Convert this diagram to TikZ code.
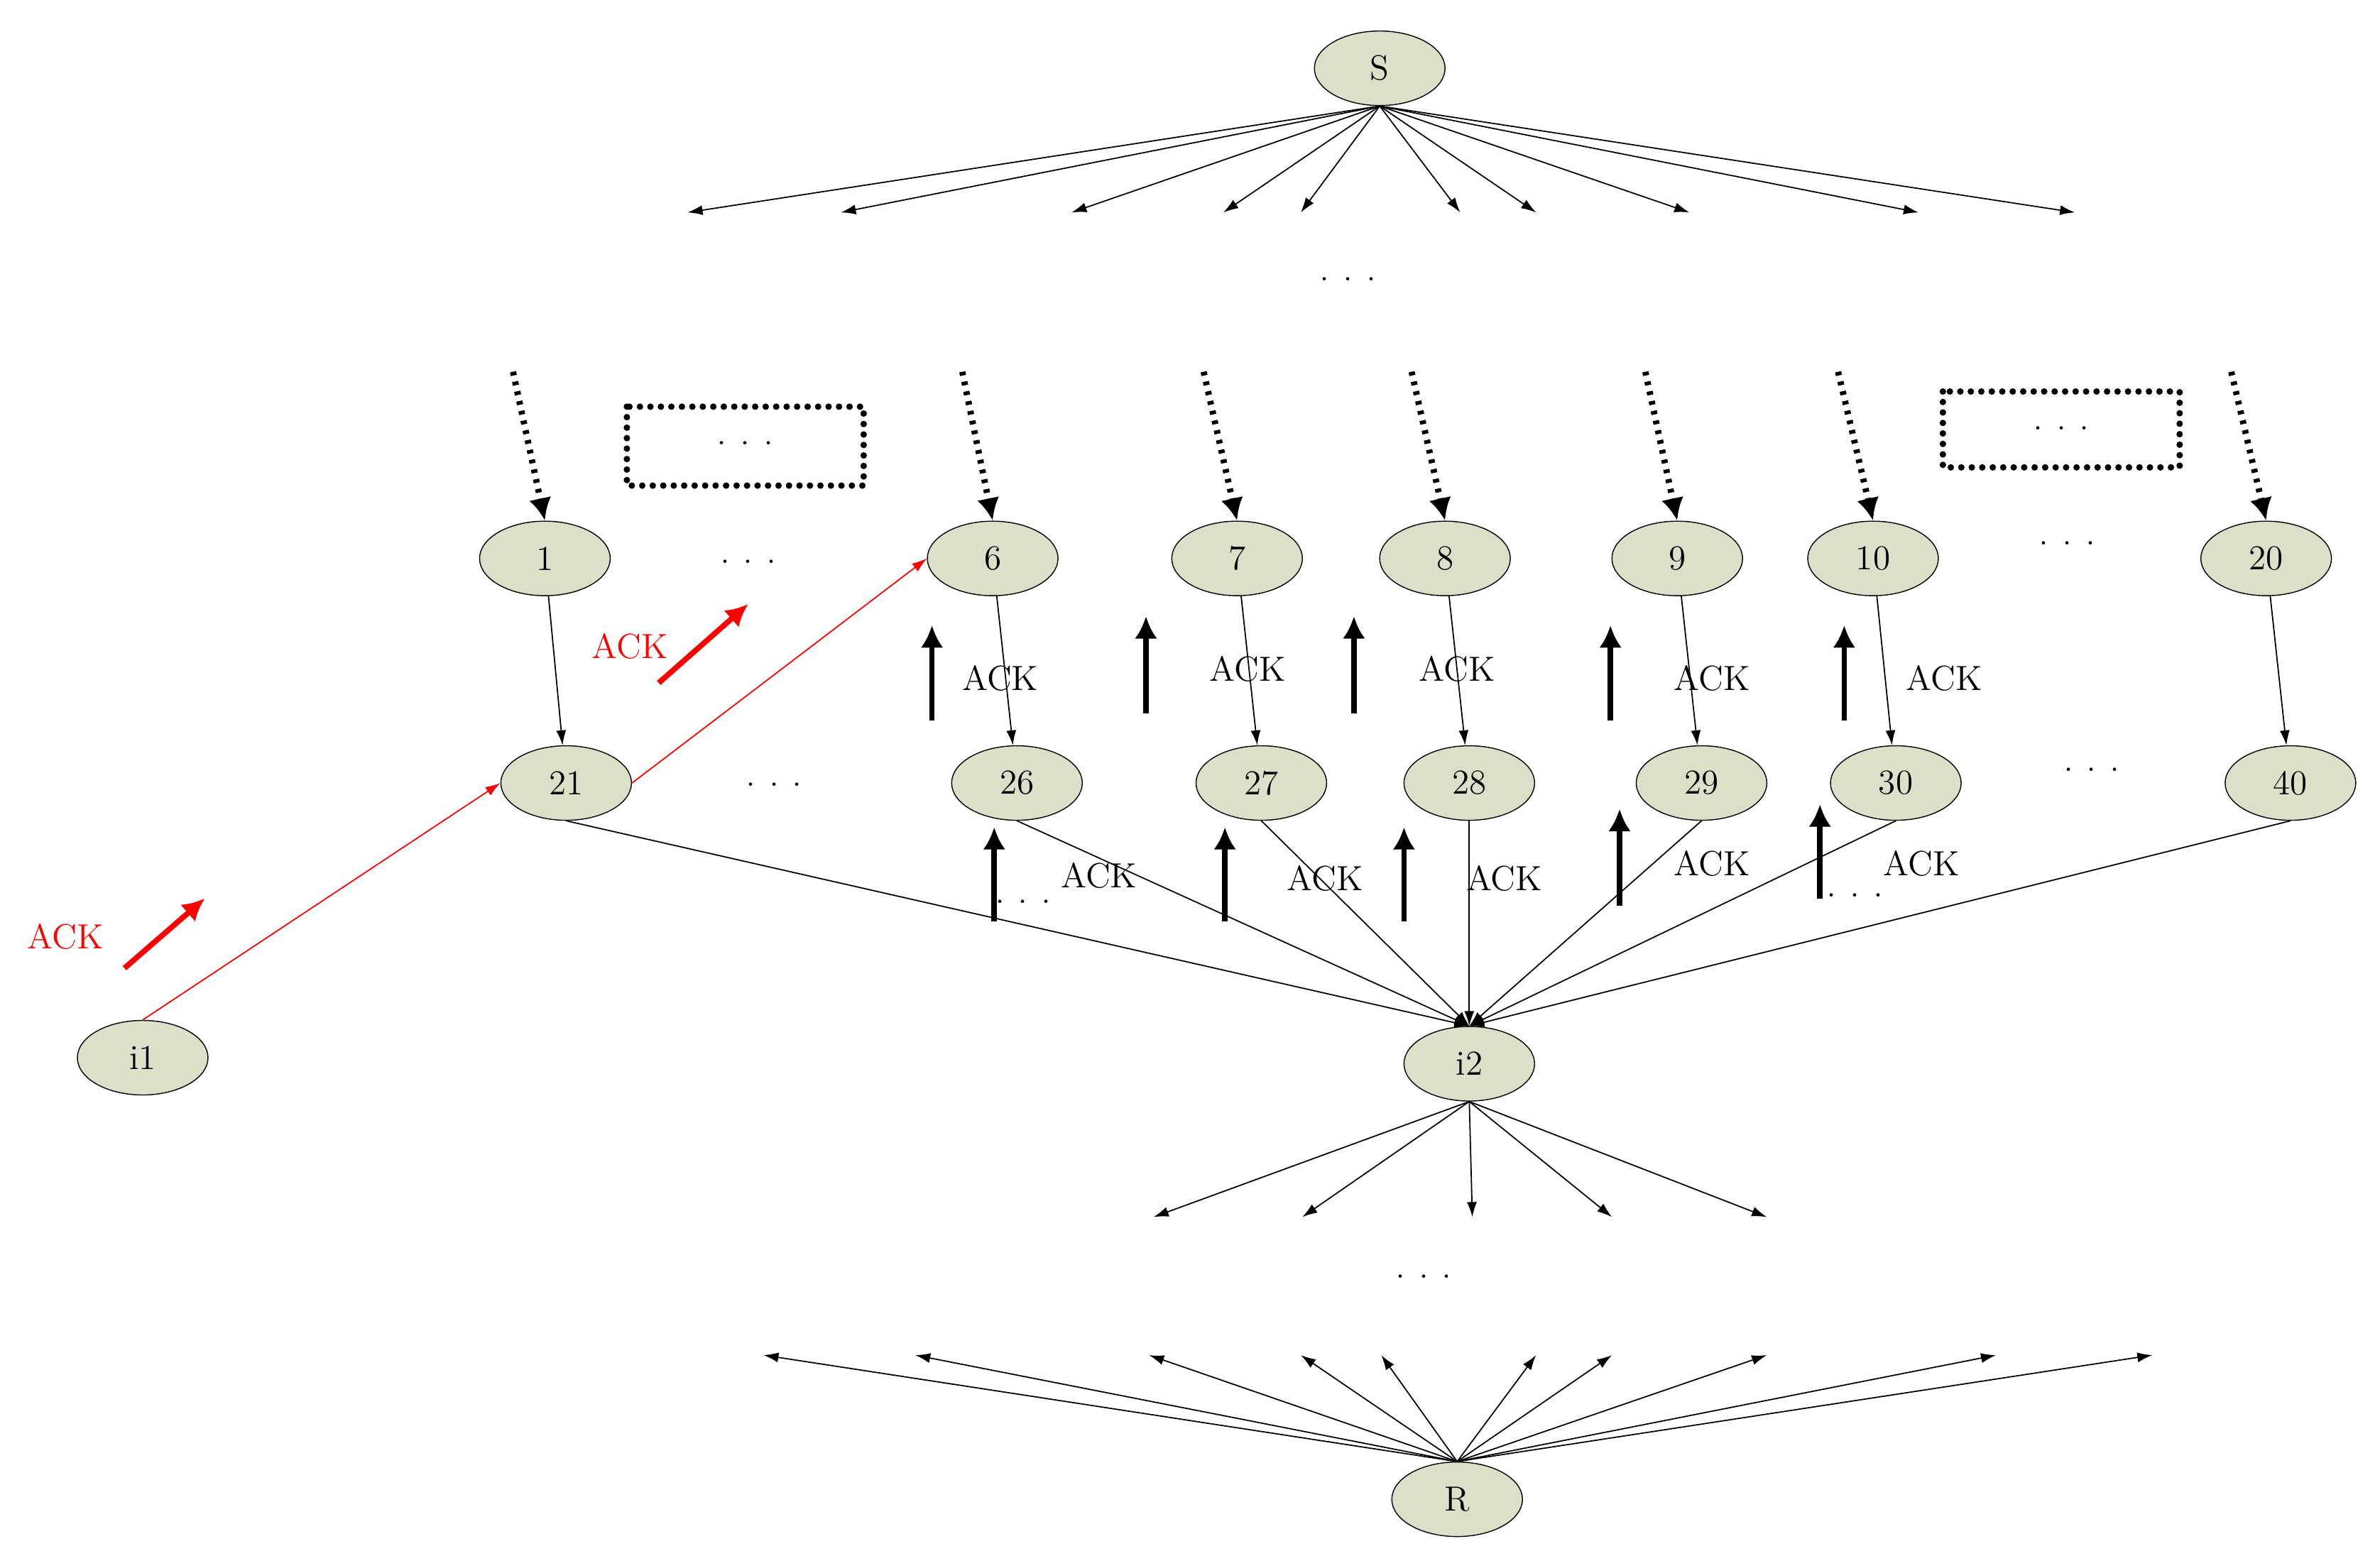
\documentclass[tikz,border=0pt]{standalone}
\usetikzlibrary{arrows.meta,shapes.geometric}
\begin{document}
\begin{tikzpicture}[x=0.021378cm,y=-0.021378cm,
 nd/.style={ellipse,draw,fill=nfill,minimum width=1.84cm,minimum height=1.05cm,inner sep=0pt,font=\fontsize{14}{16}\selectfont},
 ed/.style={-{Latex[length=6pt,width=4pt]},line width=0.5pt},
 dot/.style={-{Latex[length=9pt,width=9pt]},line width=2.5pt,dash pattern=on 1.5pt off 2.5pt},
 box/.style={line width=2.6pt,line cap=round,dash pattern=on 0pt off 4.2pt},
 bk/.style={-{Latex[length=9pt,width=9pt]},line width=2.2pt},
 rd/.style={-{Latex[length=9pt,width=9pt]},line width=2.2pt,red},
 lb/.style={font=\fontsize{14}{16}\selectfont},
 dd/.style={font=\fontsize{16}{16}\selectfont}]
\definecolor{nfill}{RGB}{221,224,200}
\useasboundingbox (0,0) rectangle (1568,1025);
% nodes
\node[nd] (S) at (909,45) {S};
\node[nd] (n1) at (359,368) {1};
\node[nd] (n6) at (654,368) {6};
\node[nd] (n7) at (815,368) {7};
\node[nd] (n8) at (952,368) {8};
\node[nd] (n9) at (1105,368) {9};
\node[nd] (n10) at (1234,368) {10};
\node[nd] (n20) at (1493,368) {20};
\node[nd] (n21) at (373,516) {21};
\node[nd] (n26) at (670,516) {26};
\node[nd] (n27) at (831,516) {27};
\node[nd] (n28) at (968,516) {28};
\node[nd] (n29) at (1121,516) {29};
\node[nd] (n30) at (1249,516) {30};
\node[nd] (n40) at (1509,516) {40};
\node[nd] (i1) at (94,697) {i1};
\node[nd] (i2) at (968,701) {i2};
\node[nd] (R) at (960,988) {R};
% S fan
\foreach \x [count=\k] in {453,554,706,806,857,962,1012,1113,1264,1367}{
  \coordinate (s\k) at (\x,140);
  \draw[ed] (S.south) -- (s\k);}
\node[dd] (d0) at (888,184) {.\,\,.\,\,.};
% dotted arrows
\foreach \a/\b/\t in {338/352/n1,634/646/n6,793/805/n7,930/942/n8,1084/1098/n9,1211/1223/n10,1470/1484/n20}{
  \coordinate (t\t) at (\a,245);
  \draw[dot] (t\t) -- (\t.north);}
\draw[box] (413,268) rectangle (569,320);
\draw[box] (1280,258) rectangle (1436,308);
\node[dd] at (491,292) {.\,\,.\,\,.};
\node[dd] at (1358,282) {.\,\,.\,\,.};
\node[dd] at (493,370) {.\,\,.\,\,.};
\node[dd] at (1362,358) {.\,\,.\,\,.};
\node[dd] at (510,517) {.\,\,.\,\,.};
\node[dd] at (1378,507) {.\,\,.\,\,.};
\node[dd] at (674,594) {.\,\,.\,\,.};
\node[dd] at (1222,590) {.\,\,.\,\,.};
% verticals
\foreach \a/\b in {n1/n21,n6/n26,n7/n27,n8/n28,n9/n29,n10/n30,n20/n40}
  \draw[ed] (\a) -- (\b);
% to i2
\foreach \a in {n21,n26,n27,n28,n29,n30,n40}
  \draw[ed] (\a.south) -- (i2.north);
% i2 fan
\foreach \x [count=\k] in {760,858,970,1062,1164}{
  \coordinate (m\k) at (\x,802);
  \draw[ed] (i2.south) -- (m\k);}
\node[dd] (d1) at (938,841) {.\,\,.\,\,.};
\foreach \x [count=\k] in {503,603,757,857,910,1012,1062,1164,1315,1418}{
  \coordinate (r\k) at (\x,893);
  \draw[ed] (R.north) -- (r\k);}
% red
\draw[ed,red] (i1.north) -- (n21.west);
\draw[ed,red] (n21.east) -- (n6.west);
\coordinate (ra1) at (82,638); \coordinate (rb1) at (135,592);
\coordinate (ra2) at (434,450); \coordinate (rb2) at (493,398);
\draw[rd] (ra1) -- (rb1);
\draw[rd] (ra2) -- (rb2);
\node[lb,red] at (43,617) {ACK};
\node[lb,red] at (415,426) {ACK};
% black ACK arrows
\foreach \x/\ya/\yb/\lx/\ly [count=\k] in {614/475/412/659/447,755/470/406/822/441,892/470/406/960/441,1061/475/412/1128/447,1215/475/412/1281/447,655/607/545/724/577,807/607/545/873/579,925/607/545/991/579,1067/597/533/1128/569,1199/592/530/1266/569}{
  \coordinate (ba\k) at (\x,\ya); \coordinate (bb\k) at (\x,\yb);
  \draw[bk] (ba\k) -- (bb\k);
  \node[lb] at (\lx,\ly) {ACK};}
\end{tikzpicture}
\end{document}
